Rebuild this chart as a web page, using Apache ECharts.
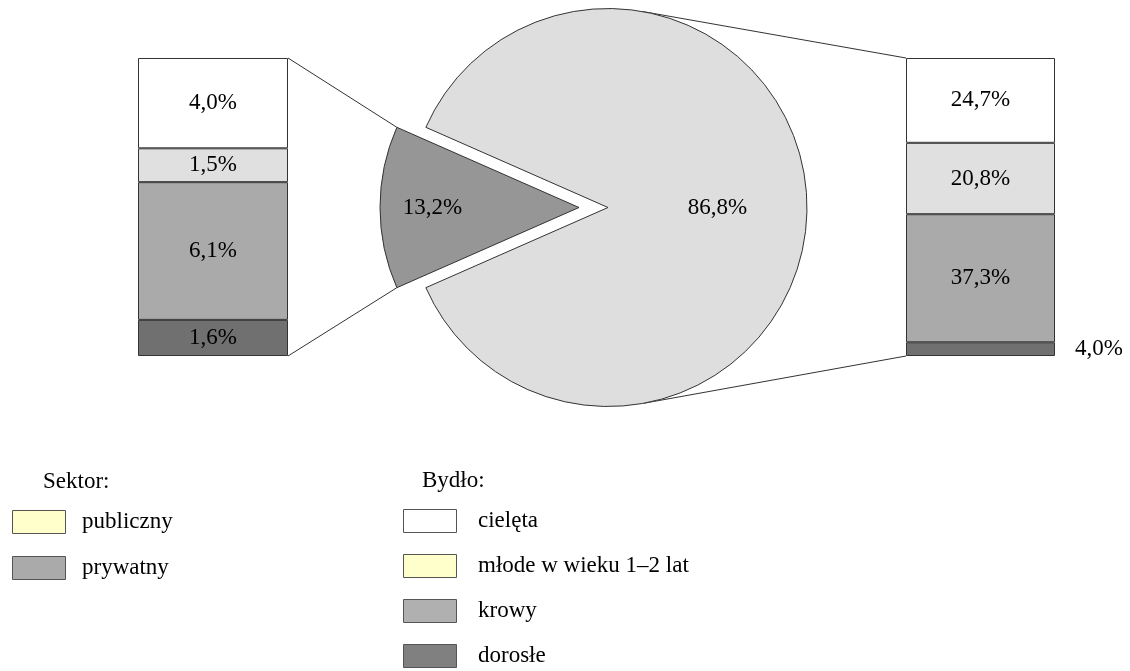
<!DOCTYPE html>
<html><head><meta charset="utf-8">
<script src="https://cdn.jsdelivr.net/npm/echarts@6/dist/echarts.min.js"></script>
<style>html,body{margin:0;padding:0;background:#fff}#c{width:1130px;height:671px}</style>
</head><body><div id="c"></div>
<script>
// ---- data ----
const categories = ['cielęta', 'młode w wieku 1–2 lat', 'krowy', 'dorosłe'];
const publicValues = [4.0, 1.5, 6.1, 1.6];      // left bar (top to bottom)
const privateValues = [24.7, 20.8, 37.3, 4.0];  // right bar (top to bottom)
const sectorNames = ['publiczny', 'prywatny'];
const sectorValues = [13.2, 86.8];
const sectorLegendTitle = 'Sektor:';
const cattleLegendTitle = 'Bydło:';

// ---- styles / layout ----
const FONT = "'Liberation Serif','Times New Roman',serif";
const FS = 23;
const segColors = ['#ffffff', '#e0e0e0', '#aaaaaa', '#707070'];
const pieColors = ['#969696', '#dedede'];
const sectorLegendColors = ['#ffffcc', '#aaaaaa'];
const cattleLegendColors = ['#ffffff', '#ffffcc', '#b0b0b0', '#808080'];
const LINE = '#333333';
const PIE = { cx: 593.5, cy: 207.5, r: 199, off: 14.5 };
const GL = { left: 138, top: 58, width: 150, height: 298 };
const GR = { left: 906, top: 58, width: 149, height: 298 };
const pieLabelShift = [-44, 7];

const fmt = v => v.toFixed(1).replace('.', ',') + '%';
const sum = a => a.reduce((s, v) => s + v, 0);

function barSeries(vals, g, grid) {
  const total = sum(vals);
  const out = [];
  for (let i = vals.length - 1; i >= 0; i--) {
    const segH = vals[i] / total * grid.height;
    out.push({
      type: 'bar', name: categories[i], xAxisIndex: g, yAxisIndex: g, stack: 's' + g,
      barWidth: '100%', silent: true, animation: false,
      data: [vals[i]],
      itemStyle: { color: segColors[i], borderColor: LINE, borderWidth: 1 },
      label: {
        show: true, position: segH < 22 ? 'right' : 'inside', distance: 20,
        formatter: fmt(vals[i]), color: '#000', fontFamily: FONT, fontSize: FS
      },
      emphasis: { disabled: true }
    });
  }
  return out;
}

const pieTotal = sum(sectorValues);
const halfAngle = sectorValues[0] / pieTotal * 180; // degrees
const startAngle = 180 + halfAngle;

// connector geometry
const rad = halfAngle * Math.PI / 180;
const smallApexX = PIE.cx - PIE.off;
const smallTop = [smallApexX - PIE.r * Math.cos(rad), PIE.cy - PIE.r * Math.sin(rad)];
const smallBot = [smallApexX - PIE.r * Math.cos(rad), PIE.cy + PIE.r * Math.sin(rad)];
const bigCx = PIE.cx + PIE.off;
function tangent(px, py, upper) {
  const dx = px - bigCx, dy = py - PIE.cy;
  const d = Math.hypot(dx, dy);
  const base = Math.atan2(dy, dx);
  const t = Math.acos(PIE.r / d);
  const a = upper ? base - t : base + t;
  return [bigCx + PIE.r * Math.cos(a), PIE.cy + PIE.r * Math.sin(a)];
}
const rTopPt = [GR.left, GR.top];
const rBotPt = [GR.left, GR.top + GR.height];

const graphics = [
  { type: 'polyline', silent: true, shape: { points: [[GL.left + GL.width, GL.top], smallTop] }, style: { stroke: LINE, lineWidth: 1, fill: null } },
  { type: 'polyline', silent: true, shape: { points: [[GL.left + GL.width, GL.top + GL.height], smallBot] }, style: { stroke: LINE, lineWidth: 1, fill: null } },
  { type: 'polyline', silent: true, shape: { points: [rTopPt, tangent(rTopPt[0], rTopPt[1], true)] }, style: { stroke: LINE, lineWidth: 1, fill: null } },
  { type: 'polyline', silent: true, shape: { points: [rBotPt, tangent(rBotPt[0], rBotPt[1], false)] }, style: { stroke: LINE, lineWidth: 1, fill: null } }
];

function legendBlock(title, names, colors, x, titleX, y0, textX, step) {
  graphics.push({ type: 'text', x: titleX, y: y0 - 40, silent: true,
    style: { text: title, font: FS + 'px ' + FONT, fill: '#000', verticalAlign: 'middle' } });
  names.forEach((n, i) => {
    const cy = y0 + i * step;
    graphics.push({ type: 'rect', silent: true, shape: { x: x + 0.5, y: cy - 11.5, width: 53, height: 23 },
      style: { fill: colors[i], stroke: '#555', lineWidth: 1 } });
    graphics.push({ type: 'text', x: textX, y: cy, silent: true,
      style: { text: n, font: FS + 'px ' + FONT, fill: '#000', verticalAlign: 'middle' } });
  });
}
legendBlock(sectorLegendTitle, sectorNames, sectorLegendColors, 12, 43, 522, 82, 46);
legendBlock(cattleLegendTitle, categories, cattleLegendColors, 403, 422, 521, 478, 45);

const option = {
  animation: false,
  backgroundColor: '#fff',
  grid: [
    Object.assign({}, GL, { containLabel: false }),
    Object.assign({}, GR, { containLabel: false })
  ],
  xAxis: [
    { type: 'category', gridIndex: 0, data: [''], show: false },
    { type: 'category', gridIndex: 1, data: [''], show: false }
  ],
  yAxis: [
    { type: 'value', gridIndex: 0, min: 0, max: sum(publicValues), show: false },
    { type: 'value', gridIndex: 1, min: 0, max: sum(privateValues), show: false }
  ],
  series: [
    ...barSeries(publicValues, 0, GL),
    ...barSeries(privateValues, 1, GR),
    {
      type: 'pie', center: [PIE.cx, PIE.cy], radius: PIE.r,
      startAngle: startAngle, clockwise: true, animation: false, silent: true,
      selectedMode: 'multiple', selectedOffset: PIE.off, avoidLabelOverlap: false,
      labelLine: { show: false },
      emphasis: { disabled: true },
      label: { show: true, position: 'inside', color: '#000', fontFamily: FONT, fontSize: FS,
        formatter: p => fmt(p.value) },
      labelLayout: p => ({ dx: pieLabelShift[p.dataIndex], dy: 0 }),
      data: sectorNames.map((n, i) => ({
        name: n, value: sectorValues[i], selected: true,
        itemStyle: { color: pieColors[i], borderColor: LINE, borderWidth: 1 },
        select: { itemStyle: { color: pieColors[i], borderColor: LINE, borderWidth: 1 } }
      }))
    }
  ],
  graphic: graphics
};

const chart = echarts.init(document.getElementById('c'), null, { renderer: 'canvas' });
chart.setOption(option);
</script>
</body></html>
